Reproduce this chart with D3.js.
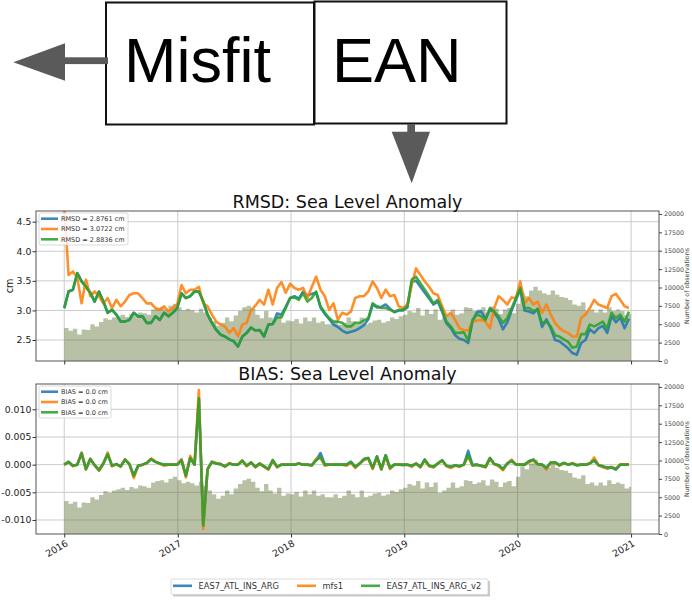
<!DOCTYPE html>
<html>
<head>
<meta charset="utf-8">
<script src="https://cdn.jsdelivr.net/npm/d3@7"></script>
<style>
  body { margin: 0; background: #fff; }
  svg { display: block; }
</style>
</head>
<body>
<svg id="chart" width="692" height="606"></svg>
<script>
// ---- series: biweekly samples, 2016-01-01 .. 2020-12-25 ----
const seriesNames = ["EAS7_ATL_INS_ARG", "mfs1", "EAS7_ATL_INS_ARG_v2"];
const seriesColors = ["#1f77b4", "#ff7f0e", "#2ca02c"];

const rmsdLabels = ["RMSD = 2.8761 cm", "RMSD = 3.0722 cm", "RMSD = 2.8836 cm"];
const biasLabels = ["BIAS = 0.0 cm", "BIAS = 0.0 cm", "BIAS = 0.0 cm"];

const rmsdArg = [
  3.04, 3.32, 3.35, 3.63, 3.49, 3.40, 3.30, 3.15, 3.32, 3.15, 2.96, 3.01, 2.93, 2.81, 2.81, 2.84, 2.96, 2.90, 2.90, 2.79, 2.79, 2.90, 2.84, 2.96, 2.90, 2.96,
  3.04, 3.29, 3.21, 3.24, 3.32, 3.32, 3.15, 2.93, 2.79, 2.67, 2.59, 2.56, 2.51, 2.48, 2.39, 2.56, 2.62, 2.71, 2.66, 2.67, 2.56, 2.76, 2.77, 2.95, 2.93, 3.06,
  3.21, 3.24, 3.20, 3.32, 3.25, 3.28, 3.30, 3.05, 2.94, 2.85, 2.76, 2.72, 2.66, 2.62, 2.64, 2.66, 2.70, 2.75, 2.85, 3.10, 3.05, 3.06, 3.10, 3.03, 2.97, 3.00,
  3.00, 3.05, 3.48, 3.50, 3.40, 3.30, 3.20, 3.10, 3.15, 2.98, 2.78, 2.70, 2.58, 2.52, 2.50, 2.45, 2.82, 2.97, 2.98, 2.86, 3.02, 2.96, 2.86, 2.68, 2.80, 3.00,
  3.18, 3.35, 3.00, 2.98, 2.95, 3.03, 2.72, 2.85, 2.70, 2.50, 2.48, 2.42, 2.36, 2.28, 2.25, 2.45, 2.50, 2.68, 2.62, 2.70, 2.74, 2.62, 2.90, 2.80, 2.88, 2.70,
  2.86
];
const rmsdMfs = [
  4.75, 3.60, 3.66, 3.55, 3.12, 3.52, 3.24, 3.32, 3.24, 3.12, 3.21, 3.04, 3.18, 3.07, 3.15, 3.26, 3.29, 3.29, 3.21, 3.12, 3.12, 3.04, 3.01, 3.07, 2.98, 3.04,
  3.10, 3.43, 3.29, 3.35, 3.35, 3.40, 3.12, 3.07, 2.93, 2.81, 2.76, 2.73, 2.62, 2.70, 2.56, 2.76, 2.79, 3.00, 3.08, 3.18, 3.10, 3.35, 3.10, 3.38, 3.48, 3.30,
  3.45, 3.38, 3.35, 3.38, 3.21, 3.40, 3.57, 3.35, 3.24, 3.01, 3.12, 2.84, 2.96, 2.93, 2.98, 3.21, 3.24, 3.24, 3.32, 3.49, 3.38, 3.21, 3.35, 3.24, 3.26, 3.07,
  3.04, 3.10, 3.43, 3.71, 3.60, 3.49, 3.40, 3.29, 3.26, 3.07, 2.90, 2.96, 2.84, 2.70, 2.67, 2.66, 2.81, 2.83, 2.84, 2.81, 2.70, 3.04, 3.24, 3.18, 3.10, 3.22,
  3.21, 3.49, 3.12, 3.21, 3.10, 3.15, 2.96, 3.10, 2.93, 2.79, 2.70, 2.65, 2.62, 2.56, 2.56, 2.87, 2.93, 3.04, 3.18, 3.10, 3.07, 3.04, 3.24, 3.28, 3.18, 3.07,
  3.04
];
const rmsdArgV2 = [
  3.04, 3.32, 3.35, 3.63, 3.49, 3.40, 3.30, 3.15, 3.32, 3.15, 2.96, 3.01, 2.93, 2.81, 2.81, 2.84, 2.96, 2.90, 2.90, 2.79, 2.79, 2.90, 2.84, 2.96, 2.90, 2.96,
  3.04, 3.29, 3.21, 3.24, 3.32, 3.32, 3.15, 2.93, 2.79, 2.67, 2.59, 2.56, 2.51, 2.48, 2.39, 2.56, 2.62, 2.71, 2.66, 2.67, 2.56, 2.76, 2.77, 2.88, 2.88, 3.04,
  3.21, 3.22, 3.18, 3.29, 3.15, 3.21, 3.32, 3.07, 2.96, 2.87, 2.81, 2.81, 2.79, 2.73, 2.73, 2.79, 2.79, 2.83, 2.87, 3.12, 3.07, 3.04, 3.04, 3.01, 2.98, 3.01,
  3.01, 3.07, 3.52, 3.57, 3.46, 3.35, 3.24, 3.12, 3.18, 3.01, 2.81, 2.73, 2.62, 2.62, 2.63, 2.49, 2.84, 2.93, 2.90, 2.84, 3.04, 2.98, 2.90, 2.79, 2.87, 3.04,
  3.21, 3.38, 3.04, 3.04, 2.99, 3.01, 2.79, 2.81, 2.73, 2.58, 2.56, 2.51, 2.47, 2.37, 2.39, 2.60, 2.60, 2.76, 2.73, 2.77, 2.81, 2.70, 2.96, 2.87, 2.93, 2.81,
  2.98
];

const biasArg = [
  0.0000, 0.0005, -0.0002, 0.0000, 0.0021, -0.0008, 0.0010, -0.0001, -0.0010, 0.0002, 0.0019, -0.0002, 0.0001, -0.0003, 0.0009, 0.0001, -0.0020, -0.0002, 0.0000, 0.0003, 0.0010, 0.0005, 0.0002, 0.0000, 0.0000, 0.0000,
  0.0000, 0.0008, -0.0020, 0.0012, 0.0000, 0.0118, -0.0108, -0.0008, 0.0005, 0.0002, 0.0001, -0.0003, 0.0002, 0.0000, 0.0000, 0.0007, -0.0002, 0.0004, -0.0004, 0.0002, -0.0003, -0.0008, 0.0008, -0.0004, 0.0000, 0.0000,
  0.0000, 0.0000, 0.0002, 0.0000, 0.0000, -0.0001, 0.0008, 0.0021, 0.0000, 0.0000, 0.0000, 0.0000, 0.0000, 0.0000, 0.0005, -0.0004, 0.0002, 0.0010, 0.0012, -0.0006, 0.0015, -0.0008, 0.0017, -0.0006, 0.0000, 0.0000,
  -0.0001, 0.0000, -0.0002, 0.0002, -0.0004, 0.0009, -0.0002, -0.0004, 0.0002, 0.0008, -0.0002, -0.0004, -0.0001, -0.0003, 0.0000, 0.0025, -0.0001, 0.0000, -0.0002, -0.0004, 0.0012, 0.0001, -0.0001, -0.0008, 0.0002, 0.0007,
  0.0000, 0.0000, 0.0000, 0.0006, 0.0009, 0.0001, 0.0000, -0.0006, 0.0004, 0.0004, -0.0001, 0.0003, 0.0000, 0.0002, -0.0001, 0.0000, 0.0000, 0.0002, 0.0008, -0.0001, -0.0003, -0.0007, -0.0005, -0.0009, 0.0000, 0.0000,
  0.0000
];
const biasMfs = [
  0.0000, 0.0005, -0.0003, 0.0000, 0.0022, -0.0009, 0.0011, -0.0001, -0.0011, 0.0002, 0.0022, -0.0003, 0.0001, -0.0004, 0.0010, 0.0001, -0.0024, -0.0003, 0.0000, 0.0003, 0.0011, 0.0006, 0.0002, -0.0002, 0.0000, 0.0000,
  0.0000, 0.0010, -0.0023, 0.0016, 0.0000, 0.0135, -0.0116, -0.0009, 0.0005, 0.0003, 0.0001, -0.0004, 0.0003, 0.0000, 0.0000, 0.0008, -0.0003, 0.0004, -0.0005, 0.0002, -0.0004, -0.0009, 0.0008, -0.0005, 0.0000, 0.0000,
  0.0000, 0.0000, 0.0002, 0.0000, 0.0000, -0.0002, 0.0011, 0.0012, -0.0002, 0.0000, 0.0000, 0.0000, 0.0000, -0.0002, 0.0003, -0.0006, 0.0002, 0.0008, 0.0011, -0.0008, 0.0013, -0.0009, 0.0014, -0.0008, 0.0000, 0.0000,
  0.0000, 0.0000, -0.0004, 0.0002, -0.0005, 0.0008, -0.0003, -0.0005, 0.0002, 0.0007, -0.0003, -0.0006, -0.0002, -0.0004, 0.0000, 0.0014, -0.0002, 0.0000, -0.0003, -0.0005, 0.0011, 0.0001, -0.0003, -0.0010, 0.0002, 0.0009,
  0.0000, 0.0000, 0.0000, 0.0004, 0.0008, 0.0001, 0.0000, -0.0009, 0.0004, 0.0003, -0.0002, 0.0003, 0.0000, 0.0003, -0.0001, 0.0000, 0.0000, 0.0002, 0.0013, -0.0001, -0.0005, -0.0006, -0.0004, -0.0007, 0.0000, 0.0000,
  0.0000
];
const biasArgV2 = [
  0.0000, 0.0005, -0.0002, 0.0000, 0.0020, -0.0008, 0.0010, -0.0001, -0.0010, 0.0002, 0.0019, -0.0002, 0.0001, -0.0003, 0.0009, 0.0001, -0.0020, -0.0002, 0.0000, 0.0003, 0.0010, 0.0005, 0.0002, 0.0000, 0.0000, 0.0000,
  0.0000, 0.0008, -0.0020, 0.0012, 0.0000, 0.0120, -0.0110, -0.0008, 0.0005, 0.0002, 0.0001, -0.0003, 0.0002, 0.0000, 0.0000, 0.0007, -0.0002, 0.0004, -0.0004, 0.0002, -0.0003, -0.0008, 0.0008, -0.0004, 0.0000, 0.0000,
  0.0000, 0.0000, 0.0002, 0.0000, 0.0000, -0.0001, 0.0008, 0.0014, 0.0000, 0.0000, 0.0000, 0.0000, 0.0000, 0.0000, 0.0005, -0.0004, 0.0002, 0.0010, 0.0012, -0.0006, 0.0015, -0.0008, 0.0017, -0.0006, 0.0000, 0.0000,
  0.0000, 0.0000, -0.0002, 0.0002, -0.0004, 0.0009, -0.0002, -0.0004, 0.0002, 0.0008, -0.0002, -0.0004, -0.0001, -0.0003, 0.0000, 0.0018, -0.0001, 0.0000, -0.0002, -0.0004, 0.0012, 0.0001, -0.0001, -0.0008, 0.0002, 0.0007,
  0.0000, 0.0000, 0.0000, 0.0006, 0.0009, 0.0001, 0.0000, -0.0006, 0.0004, 0.0004, -0.0001, 0.0003, 0.0000, 0.0002, -0.0001, 0.0000, 0.0000, 0.0002, 0.0008, -0.0001, -0.0003, -0.0005, -0.0005, -0.0008, 0.0000, 0.0000,
  0.0000
];

// number of observations per sample
const obsCount = [
  4500, 4100, 4400, 3600, 4300, 4200, 5000, 4700, 5300, 5800, 5600, 5900, 6100, 6300, 6000, 6400, 6200, 6600, 6500, 6300, 7000, 7200, 7300, 7000, 7500, 7800,
  7300, 6900, 7100, 6900, 6600, 7100, 6600, 5900, 5400, 4800, 5200, 5900, 5400, 6200, 6800, 7300, 7500, 7100, 6300, 5800, 6800, 5900, 5500, 6300, 5200, 5500,
  5400, 5700, 5100, 5900, 5400, 5900, 5200, 5400, 5000, 5000, 5400, 4900, 5200, 5900, 5400, 5000, 5900, 5000, 5200, 5500, 5600, 5200, 5400, 5900, 5700, 6100,
  6300, 6800, 6600, 7200, 6200, 7000, 6400, 7000, 5600, 5900, 6300, 7000, 6300, 6500, 7300, 7200, 6800, 7000, 7300, 6600, 7400, 7100, 6400, 7000, 7200, 6500,
  7800, 9200, 8800, 9600, 10100, 9600, 9200, 9000, 9600, 9000, 8700, 8600, 8300, 7700, 7500, 8000, 6800, 7000, 6600, 7000, 6600, 7300, 6800, 7000, 6800, 6200,
  6400
];

const yearTicks = [2016, 2017, 2018, 2019, 2020, 2021];
const rmsdTicks = [2.5, 3.0, 3.5, 4.0, 4.5];
const biasTicks = [-0.010, -0.005, 0.000, 0.005, 0.010];
const obsTicks = [0, 2500, 5000, 7500, 10000, 12500, 15000, 17500, 20000];

// sample dates, every 14 days from the first day of 2016
const dates = obsCount.map((_, i) => d3.timeDay.offset(new Date(2016, 0, 1), i * 14));
const dataEnd = new Date(2021, 0, 1);

const FONT = "DejaVu Sans, Verdana, sans-serif";
const svg = d3.select("#chart");
const L = 36, R = 659;
const LINE_W = 2.6;

const x = d3.scaleTime()
  .domain([new Date(2015, 9, 2), new Date(2021, 3, 1)])
  .range([L, R]);

// plain hyphen for negative tick labels
const hyphenFmt = spec => { const f = d3.format(spec); return v => f(v).replace("\u2212", "-"); };

// ---- header: two labelled boxes with arrows ----
const head = svg.append("g");
head.append("rect").attr("x", 106).attr("y", 2.5).attr("width", 208).attr("height", 122)
  .attr("fill", "#fff").attr("stroke", "#111").attr("stroke-width", 2);
head.append("rect").attr("x", 314.5).attr("y", 1.5).attr("width", 192).attr("height", 122)
  .attr("fill", "#fff").attr("stroke", "#111").attr("stroke-width", 2);
head.append("text").attr("x", 124).attr("y", 81.5).attr("font-family", "Liberation Sans, Arial, sans-serif")
  .attr("font-size", 63).attr("fill", "#000").text("Misfit");
head.append("text").attr("x", 332).attr("y", 81.5).attr("font-family", "Liberation Sans, Arial, sans-serif")
  .attr("font-size", 63).attr("fill", "#000").text("EAN");
const arrowFill = "#5a5a5a";
head.append("rect").attr("x", 64).attr("y", 57.3).attr("width", 44).attr("height", 6.8).attr("fill", arrowFill);
head.append("path").attr("d", "M65,43.3 L13.3,62.3 L65,80.7 Z").attr("fill", arrowFill);
head.append("rect").attr("x", 407.3).attr("y", 124).attr("width", 7.7).attr("height", 9).attr("fill", arrowFill);
head.append("path").attr("d", "M391.7,131.7 L430,131.7 L411.7,183.3 Z").attr("fill", arrowFill);

// ---- panels ----
const panels = [
  { title: "RMSD: Sea Level Anomaly", titleY: 207.5, top: 211, bottom: 361,
    domain: [2.145, 4.681], ticks: rmsdTicks, fmt: hyphenFmt(".1f"), ylabel: "cm",
    series: [rmsdArg, rmsdMfs, rmsdArgV2], labels: rmsdLabels, legendW: 89, showYears: false },
  { title: "BIAS: Sea Level Anomaly", titleY: 380, top: 384, bottom: 534,
    domain: [-0.01253, 0.01457], ticks: biasTicks, fmt: hyphenFmt(".3f"), ylabel: null,
    series: [biasArg, biasMfs, biasArgV2], labels: biasLabels, legendW: 72, showYears: true }
];

panels.forEach((p, pi) => {
  const g = svg.append("g");
  const y = d3.scaleLinear().domain(p.domain).range([p.bottom, p.top]);
  const yObs = d3.scaleLinear().domain([0, 20400]).range([p.bottom, p.top]);
  const gridColor = "#cbcbcb";

  // grid
  g.append("g").selectAll("line").data(yearTicks).join("line")
    .attr("x1", d => x(new Date(d, 0, 1))).attr("x2", d => x(new Date(d, 0, 1)))
    .attr("y1", p.top).attr("y2", p.bottom)
    .attr("stroke", gridColor).attr("stroke-width", 1);
  g.append("g").selectAll("line").data(p.ticks).join("line")
    .attr("x1", L).attr("x2", R)
    .attr("y1", d => y(d)).attr("y2", d => y(d))
    .attr("stroke", gridColor).attr("stroke-width", 1);

  const clipId = "clip" + pi;
  svg.append("clipPath").attr("id", clipId).append("rect")
    .attr("x", L).attr("y", p.top).attr("width", R - L).attr("height", p.bottom - p.top);
  const plot = g.append("g").attr("clip-path", `url(#${clipId})`);

  // observation counts as a stepped histogram
  const obsPts = obsCount.map((v, i) => ({ date: dates[i], v }));
  obsPts.push({ date: dataEnd, v: obsCount[obsCount.length - 1] });
  plot.append("path")
    .datum(obsPts)
    .attr("d", d3.area().curve(d3.curveStepAfter)
      .x(d => x(d.date)).y0(yObs(0)).y1(d => yObs(d.v)))
    .attr("fill", "#5a7030").attr("fill-opacity", 0.43);

  // model lines
  const line = d3.line().x((d, i) => x(dates[i])).y(d => y(d));
  p.series.forEach((s, si) => {
    plot.append("path").datum(s).attr("d", line)
      .attr("fill", "none").attr("stroke", seriesColors[si])
      .attr("stroke-width", LINE_W).attr("stroke-opacity", 0.88)
      .attr("stroke-linejoin", "round");
  });

  // frame
  g.append("rect").attr("x", L).attr("y", p.top).attr("width", R - L).attr("height", p.bottom - p.top)
    .attr("fill", "none").attr("stroke", "#555").attr("stroke-width", 1);

  // left axis
  const ax = g.append("g").attr("transform", `translate(${L},0)`)
    .call(d3.axisLeft(y).tickValues(p.ticks).tickFormat(p.fmt).tickSize(3.5).tickPadding(1.2));
  ax.select(".domain").remove();
  ax.selectAll("line").attr("stroke", "#333");
  ax.selectAll("text").attr("font-family", FONT).attr("font-size", 9.3).attr("fill", "#222");

  // right axis: observations
  const ar = g.append("g").attr("transform", `translate(${R},0)`)
    .call(d3.axisRight(yObs).tickValues(obsTicks).tickFormat(d3.format("d")).tickSize(3).tickPadding(2));
  ar.select(".domain").remove();
  ar.selectAll("line").attr("stroke", "#444");
  ar.selectAll("text").attr("font-family", FONT).attr("font-size", 6.3).attr("fill", "#444");
  g.append("text")
    .attr("transform", `translate(689,${(p.top + p.bottom) / 2}) rotate(-90)`)
    .attr("text-anchor", "middle").attr("font-family", FONT).attr("font-size", 6.3).attr("fill", "#444")
    .text("Number of observations");

  // bottom axis
  const ab = g.append("g").attr("transform", `translate(0,${p.bottom})`)
    .call(d3.axisBottom(x).tickValues(yearTicks.map(yv => new Date(yv, 0, 1))).tickFormat("").tickSize(3.5));
  ab.select(".domain").remove();
  ab.selectAll("line").attr("stroke", "#333");
  if (p.showYears) {
    g.append("g").selectAll("text").data(yearTicks).join("text")
      .attr("transform", d => `translate(${x(new Date(d, 0, 1)) + 1},${p.bottom + 5.5}) rotate(-30)`)
      .attr("text-anchor", "end").attr("dy", "0.72em")
      .attr("font-family", FONT).attr("font-size", 9.4).attr("fill", "#222")
      .text(d => d);
  }

  if (p.ylabel) {
    g.append("text")
      .attr("transform", `translate(13,${(p.top + p.bottom) / 2}) rotate(-90)`)
      .attr("text-anchor", "middle").attr("font-family", FONT).attr("font-size", 9.6).attr("fill", "#222")
      .text(p.ylabel);
  }

  // title
  g.append("text").attr("x", (L + R) / 2).attr("y", p.titleY)
    .attr("text-anchor", "middle").attr("font-family", FONT).attr("font-size", 17.5).attr("fill", "#111")
    .text(p.title);

  // in-panel legend
  const lg = g.append("g").attr("transform", `translate(39,${p.top + 2})`);
  lg.append("rect").attr("width", p.legendW).attr("height", 32).attr("rx", 2)
    .attr("fill", "#fff").attr("fill-opacity", 0.85).attr("stroke", "#d0d0d0").attr("stroke-width", 0.8);
  p.labels.forEach((t, i) => {
    const ry = 5.7 + i * 10.3;
    lg.append("line").attr("x1", 2).attr("x2", 19).attr("y1", ry).attr("y2", ry)
      .attr("stroke", seriesColors[i]).attr("stroke-width", LINE_W).attr("stroke-opacity", 0.88);
    lg.append("text").attr("x", 22).attr("y", ry).attr("dy", "0.35em")
      .attr("font-family", FONT).attr("font-size", 6.5).attr("fill", "#333").text(t);
  });
});

// ---- shared legend at the bottom ----
const bl = svg.append("g").attr("transform", "translate(171,579)");
bl.append("rect").attr("x", 2).attr("y", 2).attr("width", 317).attr("height", 15.5)
  .attr("fill", "#888").attr("fill-opacity", 0.45);
bl.append("rect").attr("width", 317).attr("height", 15.5).attr("rx", 1.5)
  .attr("fill", "#fff").attr("stroke", "#d0d0d0").attr("stroke-width", 0.8);
const blX = [2, 126, 190];
seriesNames.forEach((n, i) => {
  bl.append("line").attr("x1", blX[i]).attr("x2", blX[i] + 19).attr("y1", 6.8).attr("y2", 6.8)
    .attr("stroke", seriesColors[i]).attr("stroke-width", LINE_W).attr("stroke-opacity", 0.88);
  bl.append("text").attr("x", blX[i] + 25.5).attr("y", 6.8).attr("dy", "0.35em")
    .attr("font-family", FONT).attr("font-size", 8.3).attr("fill", "#333").text(n);
});
</script>
</body>
</html>
